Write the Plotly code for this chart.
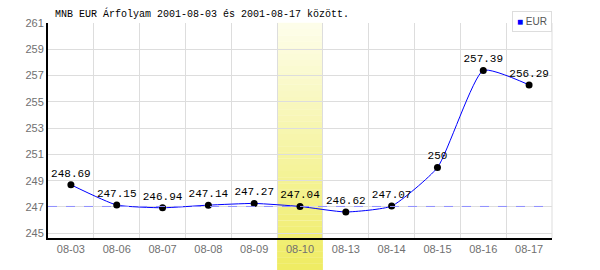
import plotly.graph_objects as go

dates = ["08-03", "08-06", "08-07", "08-08", "08-09", "08-10", "08-13", "08-14", "08-15", "08-16", "08-17"]
eur = [248.69, 247.15, 246.94, 247.14, 247.27, 247.04, 246.62, 247.07, 250.00, 257.39, 256.29]
labels = ["248.69", "247.15", "246.94", "247.14", "247.27", "247.04", "246.62", "247.07", "250", "257.39", "256.29"]
highlight = "08-10"
ref_value = 247.04
yticks = [245, 247, 249, 251, 253, 255, 257, 259, 261]
title = "MNB EUR Árfolyam 2001-08-03 és 2001-08-17 között."

W, H = 600, 270
ml, mr, mt, mb = 48, 48, 23, 32
plot_w = W - ml - mr
plot_h = H - mt - mb

fig = go.Figure()
fig.add_trace(go.Scatter(
    x=dates, y=eur, mode="lines+markers+text",
    text=labels, textposition="top center",
    textfont=dict(family="Liberation Mono", size=11, color="#000000"),
    line=dict(color="#0000ff", width=1, shape="spline", smoothing=0.5),
    marker=dict(color="#000000", size=7),
    showlegend=False, cliponaxis=False,
))

# gradient highlight band
hi = dates.index(highlight)
n = 40
y_bot = -mb / plot_h
y_top = 1.0
c0 = (253, 253, 233)
c1 = (239, 236, 100)
shapes = []
for i in range(n):
    t = i / (n - 1)
    col = tuple(round(c0[k] + (c1[k] - c0[k]) * t) for k in range(3))
    ya = y_top - (y_top - y_bot) * i / n
    yb = y_top - (y_top - y_bot) * (i + 1) / n
    shapes.append(dict(type="rect", xref="x", yref="paper", x0=hi - 0.5, x1=hi + 0.5,
                       y0=yb, y1=ya + 0.001, fillcolor="rgb(%d,%d,%d)" % col,
                       line=dict(width=0), layer="below"))
shapes.append(dict(type="line", xref="paper", yref="y", x0=0, x1=1, y0=ref_value, y1=ref_value,
                   line=dict(color="#8f8fff", width=1, dash="dash"), layer="above"))
shapes.append(dict(type="line", xref="paper", yref="paper", x0=1, x1=1, y0=0, y1=1,
                   line=dict(color="#dddddd", width=1), layer="below"))

fig.update_layout(
    width=W, height=H,
    margin=dict(l=ml, r=mr, t=mt, b=mb, pad=0),
    paper_bgcolor="#ffffff", plot_bgcolor="rgba(0,0,0,0)",
    shapes=shapes,
    xaxis=dict(type="category", range=[-0.5, len(dates) - 0.5], tickson="boundaries",
               showgrid=True, gridcolor="#dddddd", gridwidth=1,
               showline=True, linecolor="#000000", linewidth=2,
               ticks="", tickfont=dict(family="Liberation Sans", size=11, color="#707070"),
               fixedrange=True),
    yaxis=dict(range=[244.64, 261.0], tickvals=yticks, ticktext=[str(v) for v in yticks],
               showgrid=True, gridcolor="#dddddd", gridwidth=1, zeroline=False,
               showline=True, linecolor="#000000", linewidth=2,
               ticks="", tickfont=dict(family="Liberation Sans", size=11, color="#707070"),
               fixedrange=True),
    annotations=[
        dict(text=title, xref="paper", yref="paper", x=(53 - ml) / plot_w,
             y=1, yshift=1, xanchor="left", yanchor="bottom", showarrow=False,
             font=dict(family="Liberation Mono", size=10, color="#000000")),
        dict(text="<span style='color:#0000ff'>■</span> EUR", xref="paper", yref="paper",
             x=1, y=1, yshift=12, xanchor="right", yanchor="top", showarrow=False,
             bgcolor="#ffffff", bordercolor="#dddddd", borderwidth=1, borderpad=4,
             font=dict(family="Liberation Sans", size=10, color="#555555")),
    ],
)
fig.write_html("out.html")
